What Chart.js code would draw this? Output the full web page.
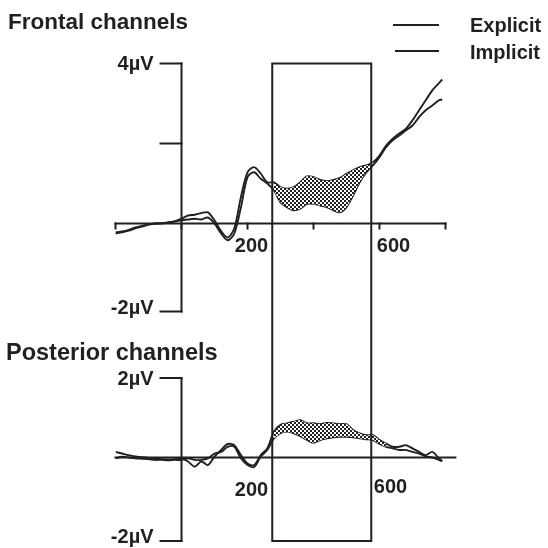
<!DOCTYPE html>
<html><head><meta charset="utf-8">
<script src="https://cdn.jsdelivr.net/npm/chart.js@4.4.0/dist/chart.umd.min.js"></script>
<style>
html,body{margin:0;padding:0;background:#fff;}
#wrap{position:relative;width:548px;height:548px;overflow:hidden;font-family:"Liberation Sans",Arial,sans-serif;color:#231f20;}
canvas{position:absolute;left:0;top:0;}
.t{position:absolute;font-weight:bold;white-space:nowrap;font-size:20px;line-height:20px;}
.lg{position:absolute;height:0;border-top:2px solid #231f20;}
</style></head>
<body><div id="wrap">
<canvas id="c1" width="548" height="548"></canvas>
<canvas id="c2" width="548" height="548"></canvas>
<div class="t" style="left:8px;top:11px;font-size:22.5px;line-height:22px;">Frontal channels</div>
<div class="t" style="left:6px;top:341px;font-size:23.5px;line-height:23px;">Posterior channels</div>
<div class="lg" style="left:393px;top:24px;width:46px;"></div>
<div class="t" style="left:470px;top:15px;">Explicit</div>
<div class="lg" style="left:395px;top:50px;width:44px;"></div>
<div class="t" style="left:470px;top:42px;">Implicit</div>
</div>
<script>
// ---- data (ms, µV) ----
const times = [-200,-180,-160,-140,-120,-100,-80,-60,-40,-20,0,20,40,60,80,100,120,140,160,180,200,220,240,260,280,300,320,340,360,380,400,420,440,460,480,500,520,540,560,580,600,620,640,660,680,700,720,740,760,780,790];
const frontalExplicit = [-0.25,-0.22,-0.18,-0.12,-0.08,-0.03,0.0,0.0,0.03,0.06,0.12,0.2,0.22,0.26,0.28,0.08,-0.19,-0.35,-0.12,0.66,1.28,1.41,1.25,1.03,1.03,0.91,0.87,0.91,1.03,1.18,1.16,1.09,1.06,1.09,1.14,1.24,1.33,1.41,1.45,1.53,1.70,1.95,2.12,2.25,2.37,2.58,2.83,3.08,3.33,3.51,3.6];
const frontalImplicit = [-0.22,-0.2,-0.16,-0.1,-0.06,-0.02,0.0,0.01,0.02,0.05,0.08,0.1,0.12,0.1,0.15,0.0,-0.25,-0.42,-0.25,0.4,1.16,1.28,1.12,1.0,0.83,0.53,0.41,0.33,0.37,0.49,0.49,0.45,0.41,0.33,0.28,0.41,0.70,1.03,1.28,1.45,1.66,1.91,2.08,2.2,2.33,2.45,2.66,2.83,2.95,3.08,3.1];
const posteriorExplicit = [0.14,0.1,0.06,0.03,0.01,-0.01,-0.03,-0.04,-0.05,-0.04,-0.02,-0.1,-0.23,-0.1,-0.19,0.02,0.19,0.34,0.31,0.06,-0.15,-0.19,0.06,0.23,0.65,0.82,0.86,0.90,0.94,0.86,0.86,0.84,0.87,0.86,0.84,0.84,0.69,0.61,0.56,0.56,0.44,0.35,0.27,0.27,0.31,0.23,0.14,0.06,0.14,-0.02,-0.08];
const posteriorImplicit = [-0.02,0.02,0.0,-0.02,-0.03,-0.04,-0.06,-0.06,-0.07,-0.06,-0.06,-0.02,-0.06,-0.06,-0.02,0.1,0.14,0.27,0.27,-0.02,-0.19,-0.24,0.02,0.19,0.48,0.61,0.65,0.61,0.54,0.44,0.37,0.44,0.48,0.51,0.52,0.52,0.51,0.48,0.46,0.44,0.34,0.27,0.23,0.19,0.19,0.14,0.1,0.03,0.0,-0.06,-0.1];
const analysisWindow = [275, 575];          // ms, boxed window
const frontalShade = [270, 580];            // ms, shaded difference
const posteriorShade = [270, 620];
const frontalYTicks = [4, 2, -2.2];
const frontalYLabels = ['4µV', '', '-2µV'];
const posteriorYTicks = [2, -2.1];
const posteriorYLabels = ['2µV', '-2µV'];
const frontalXTicks = [-200, 0, 200, 400, 600, 800];
const xLabelValues = [200, 600];
const xLabelTexts = ['200', '600'];

const INK = '#231f20';
const FONT = 'bold 20px "Liberation Sans", Arial, sans-serif';

function makePattern() {
  const pc = document.createElement('canvas'); pc.width = 4; pc.height = 4;
  const p = pc.getContext('2d');
  p.fillStyle = '#fff'; p.fillRect(0,0,4,4);
  p.fillStyle = INK; p.fillRect(0,0,2,2); p.fillRect(2,2,2,2);
  return document.getElementById('c1').getContext('2d').createPattern(pc, 'repeat');
}
const pattern = makePattern();

const pts = (arr) => times.map((t,i) => ({x:t, y:arr[i]}));
const win = (arr, w) => times.map((t,i) => ({x:t, y:(t >= w[0] && t <= w[1]) ? arr[i] : null}));

function datasets(a, b, shade) {
  const common = {pointRadius:0, tension:0.3, spanGaps:false};
  return [
    Object.assign({label:'shadeA', data:win(a, shade), borderColor:'rgba(0,0,0,0)', borderWidth:1, fill:'+1', backgroundColor:pattern}, common),
    Object.assign({label:'shadeB', data:win(b, shade), borderColor:'rgba(0,0,0,0)', borderWidth:1, fill:false}, common),
    Object.assign({label:'Explicit', data:pts(a), borderColor:INK, borderWidth:1.9, fill:false}, common),
    Object.assign({label:'Implicit', data:pts(b), borderColor:INK, borderWidth:1.9, fill:false}, common)
  ];
}

const axesPlugin = {
  id: 'eegAxes',
  afterDraw(chart, args, o) {
    const ctx = chart.ctx, xs = chart.scales.x, ys = chart.scales.y;
    const x0 = xs.getPixelForValue(0), y0 = ys.getPixelForValue(0);
    const line = (x1,y1,x2,y2) => { ctx.beginPath(); ctx.moveTo(x1,y1); ctx.lineTo(x2,y2); ctx.stroke(); };
    ctx.save();
    ctx.strokeStyle = INK; ctx.fillStyle = INK; ctx.lineWidth = 2; ctx.lineCap = 'square';
    line(x0, ys.getPixelForValue(ys.max), x0, ys.getPixelForValue(ys.min));
    ctx.font = FONT; ctx.textAlign = 'right'; ctx.textBaseline = 'middle';
    o.yTicks.forEach((v,i) => {
      const y = ys.getPixelForValue(v);
      line(x0 - 21, y, x0, y);
      if (o.yLabels[i]) ctx.fillText(o.yLabels[i], x0 - 28, y + o.yLabelDy[i]);
    });
    line(xs.left, y0, xs.right, y0);
    o.xTicks.forEach(v => { const x = xs.getPixelForValue(v); line(x, y0, x, y0 + 5); });
    ctx.textAlign = 'center'; ctx.textBaseline = 'alphabetic';
    xLabelValues.forEach((v,i) => {
      ctx.fillText(xLabelTexts[i], xs.getPixelForValue(v) + o.xLabelDx[i], y0 + o.xLabelDy[i]);
    });
    ctx.restore();
  }
};

function baseOptions(pad, xmax, ymin, ymax, axesOpts) {
  return {
    responsive:false, animation:false, events:[],
    layout:{padding:pad},
    plugins:{legend:{display:false}, tooltip:{enabled:false}, eegAxes:axesOpts},
    scales:{
      x:{type:'linear', min:-200, max:xmax, display:false},
      y:{type:'linear', min:ymin, max:ymax, display:false}
    }
  };
}

const chart1 = new Chart(document.getElementById('c1'), {
  type:'line',
  data:{datasets:datasets(frontalExplicit, frontalImplicit, frontalShade)},
  options:baseOptions({left:115.5, right:102.5, top:63.5, bottom:236.5}, 800, -2.2, 4,
    {yTicks:frontalYTicks, yLabels:frontalYLabels, yLabelDy:[1,0,-3], xTicks:frontalXTicks, xLabelDx:[4,14], xLabelDy:[28,28]}),
  plugins:[axesPlugin]
});

const boxPlugin = {
  id:'windowBox',
  afterDraw(chart) {
    const ctx = chart.ctx, xs = chart.scales.x;
    const top = chart1.scales.y.getPixelForValue(chart1.scales.y.max);
    const bottom = chart.scales.y.getPixelForValue(chart.scales.y.min);
    const l = xs.getPixelForValue(analysisWindow[0]), r = xs.getPixelForValue(analysisWindow[1]);
    ctx.save(); ctx.strokeStyle = INK; ctx.lineWidth = 2;
    ctx.strokeRect(l, top, r - l, bottom - top);
    ctx.restore();
  }
};

const chart2 = new Chart(document.getElementById('c2'), {
  type:'line',
  data:{datasets:datasets(posteriorExplicit, posteriorImplicit, posteriorShade)},
  options:baseOptions({left:115.5, right:92.6, top:378, bottom:7}, 830, -2.1, 2,
    {yTicks:posteriorYTicks, yLabels:posteriorYLabels, yLabelDy:[1,-4], xTicks:[], xLabelDx:[4,11], xLabelDy:[38,35]}),
  plugins:[axesPlugin, boxPlugin]
});
</script>
</body></html>
